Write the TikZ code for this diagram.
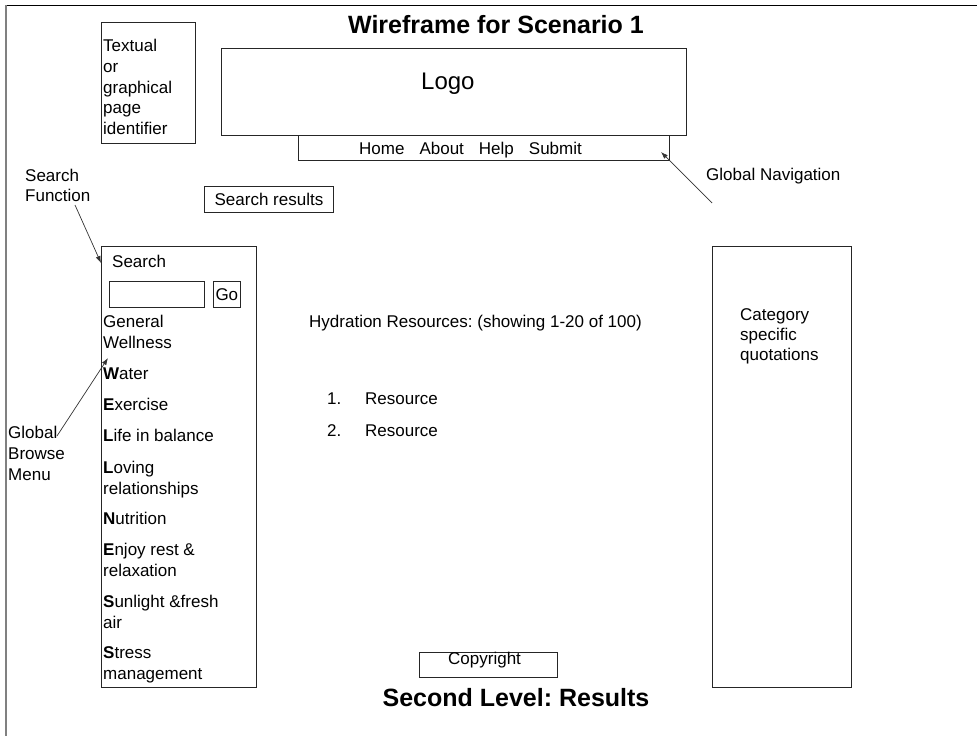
\documentclass[tikz,border=0pt]{standalone}
\usepackage{fontspec}
\setmainfont{Liberation Sans}
\frenchspacing
\usetikzlibrary{positioning,arrows.meta}
\tikzset{%
wfbox/.style 2 args={draw=black!85,line width=0.9pt,rectangle,inner sep=0,minimum width=#1,minimum height=#2,anchor=north west},
wftext/.style={font=\fontsize{17}{20.5}\selectfont,inner sep=0,align=left,anchor=base west},
heading/.style={font=\fontsize{25}{30}\selectfont\bfseries,inner sep=0},
pointer/.style={draw=black!80,line width=0.7pt,-{Latex[length=7pt,width=5pt]}}
}

\begin{document}
\begin{tikzpicture}[x=1pt,y=-1pt]
\useasboundingbox (0,0) rectangle (977,736);

% page frame
\draw[line width=1pt] (6,5) -- (977,5);
\draw[gray,line width=2pt] (6,5) -- (6,736);

\node[heading] (title) at (496,25) {Wireframe for Scenario 1};
\node[heading] (level) at (516,698) {Second Level: Results};

% header (multi-line texts sit on the baseline of their last line)
\node[wfbox={94pt}{121pt}] (ident) at (101,22) {};
\node[wftext,font=\fontsize{17}{20.8}\selectfont] (identtext) at (103,134.7) {Textual\\or\\graphical\\page\\identifier};
\node[wfbox={465pt}{87pt}] (logo) at (221,48) {};
\node[wftext,font=\fontsize{24}{28}\selectfont] (logotext) at (421,89) {Logo};
\node[wfbox={371pt}{25pt}] (nav) at (298,135) {};
\node[wftext] (navtext) at (359,154.5) {Home\hspace{15pt}About\hspace{15pt}Help\hspace{15pt}Submit};
\node[wftext] (navlabel) at (706,180.5) {Global Navigation};
\coordinate (navtail) at (712,203);
\coordinate (navhead) at (661,152);
\draw[pointer] (navtail) -- (navhead);

\node[wfbox={129pt}{26pt},font=\fontsize{17}{20.5}\selectfont] (results) at (204,186) {Search results};

% search and browse menu
\node[wftext,font=\fontsize{17}{20}\selectfont] (searchlabel) at (25,201.5) {Search\\Function};
\node[wfbox={155pt}{441pt}] (menu) at (101,246) {};
\node[wftext] (search) at (112,267.5) {Search};
\node[wfbox={95pt}{26pt}] (searchin) at (109,281) {};
\node[wfbox={27pt}{26pt},font=\fontsize{17}{20.5}\selectfont,right=8pt of searchin] (go) {Go};
\coordinate (sftail) at (75,205);
\coordinate (sfhead) at (101,263);
\draw[pointer] (sftail) -- (sfhead);

\foreach \name/\ypos/\item in {gw/348/{General\\Wellness},
    water/379.5/{\textbf{W}ater},
    exercise/410.5/{\textbf{E}xercise},
    life/441.5/{\textbf{L}ife in balance},
    loving/494/{\textbf{L}oving\\relationships},
    nutrition/524.5/{\textbf{N}utrition},
    enjoy/576/{\textbf{E}njoy rest \&\\relaxation},
    sunlight/628/{\textbf{S}unlight \&fresh\\air},
    stress/679/{\textbf{S}tress\\management}}
  \node[wftext] (\name) at (103,\ypos) {\item};

\node[wftext,font=\fontsize{17}{21}\selectfont] (browselabel) at (8,480.5) {Global\\Browse\\Menu};
\coordinate (gbtail) at (57,436);
\coordinate (gbhead) at (108,358);
\draw[pointer] (gbtail) -- (gbhead);

% results list
\node[wftext] (hydration) at (309,327.5) {Hydration Resources: (showing 1-20 of 100)};
\node[wftext] (num1) at (327,404.5) {1.};
\node[wftext] (res1) at (365,404.5) {Resource};
\node[wftext] (num2) at (327,436.5) {2.};
\node[wftext] (res2) at (365,436.5) {Resource};

% quotations
\node[wfbox={139pt}{441pt}] (quotes) at (712,246) {};
\node[wftext,font=\fontsize{17}{20}\selectfont] (quotetext) at (740,360.5) {Category\\specific\\quotations};

% footer
\node[wfbox={138pt}{25pt}] (copy) at (419,652) {};
\node[wftext] (copytext) at (448,664.5) {Copyright};

\end{tikzpicture}
\end{document}
